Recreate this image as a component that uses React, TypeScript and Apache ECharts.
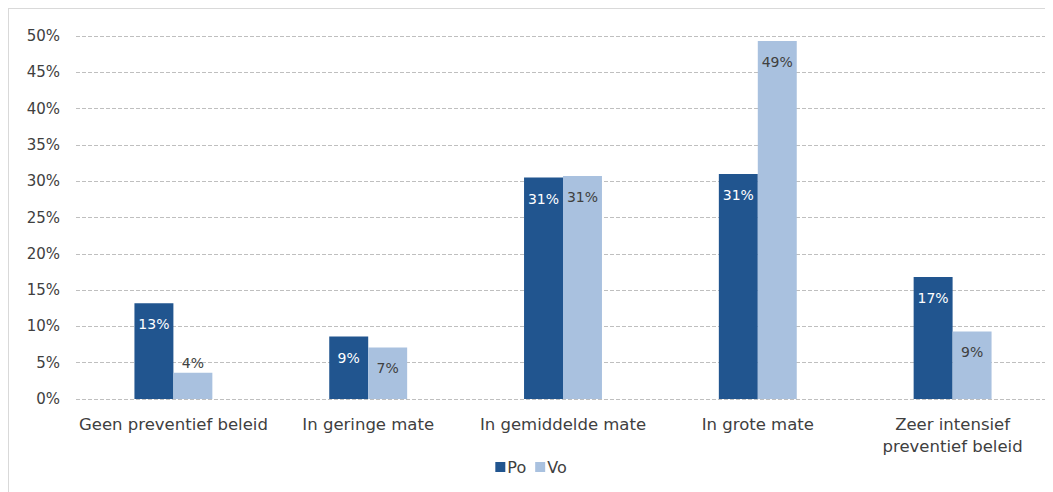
import React, { useEffect, useRef } from "react";
import * as echarts from "echarts";

const categories = [
  "Geen preventief beleid",
  "In geringe mate",
  "In gemiddelde mate",
  "In grote mate",
  "Zeer intensief\npreventief beleid",
];
const poValues = [13.2, 8.6, 30.5, 31.0, 16.8];
const voValues = [3.6, 7.1, 30.7, 49.3, 9.3];
const poLabels = ["13%", "9%", "31%", "31%", "17%"];
const voLabels = ["4%", "7%", "31%", "49%", "9%"];

const FONT = "DejaVu Sans";

export default function App() {
  const ref = useRef<HTMLDivElement>(null);
  useEffect(() => {
    if (!ref.current) return;
    const chart = echarts.init(ref.current, null, { renderer: "svg" });
    const labelBase = {
      show: true,
      position: "insideTop",
      distance: 14,
      fontFamily: FONT,
      fontSize: 14,
    };
    chart.setOption({
      animation: false,
      textStyle: { fontFamily: FONT },
      grid: { left: 67, right: 3, top: 27, bottom: 93, containLabel: false },
      legend: {
        data: ["Po", "Vo"],
        bottom: 12,
        left: "center",
        itemWidth: 10,
        itemHeight: 10,
        itemGap: 9,
        icon: "rect",
        textStyle: { fontFamily: FONT, fontSize: 16, color: "#404040", padding: [0, 0, 0, -3] },
      },
      xAxis: {
        type: "category",
        data: categories,
        axisLine: { show: false },
        axisTick: { show: false },
        axisLabel: {
          fontFamily: FONT,
          fontSize: 16.5,
          color: "#404040",
          margin: 14,
          lineHeight: 22,
          interval: 0,
        },
      },
      yAxis: {
        type: "value",
        min: 0,
        max: 50,
        interval: 5,
        axisLine: { show: false },
        axisTick: { show: false },
        axisLabel: {
          formatter: "{value}%",
          fontFamily: FONT,
          fontSize: 15,
          color: "#404040",
          margin: 16,
        },
        splitLine: { lineStyle: { color: "#bfbfbf", type: [4, 2], width: 1 } },
      },
      series: [
        {
          name: "Po",
          type: "bar",
          data: poValues,
          barGap: "0%",
          barCategoryGap: "60%",
          itemStyle: { color: "#21558F" },
          label: {
            ...labelBase,
            color: "#ffffff",
            formatter: (p: any) => poLabels[p.dataIndex],
          },
        },
        {
          name: "Vo",
          type: "bar",
          data: voValues.map((v, i) =>
            i === 0 ? { value: v, label: { position: "top", distance: 3 } } : v
          ),
          itemStyle: { color: "#A9C1DF" },
          label: {
            ...labelBase,
            color: "#404040",
            formatter: (p: any) => voLabels[p.dataIndex],
          },
        },
      ],
    });
    return () => chart.dispose();
  }, []);
  return (
    <div
      style={{
        width: 1045,
        height: 484,
        borderTop: "1px solid #d9d9d9",
        borderLeft: "1px solid #d9d9d9",
        boxSizing: "border-box",
      }}
    >
      <div ref={ref} style={{ width: 1044, height: 483 }} />
    </div>
  );
}
